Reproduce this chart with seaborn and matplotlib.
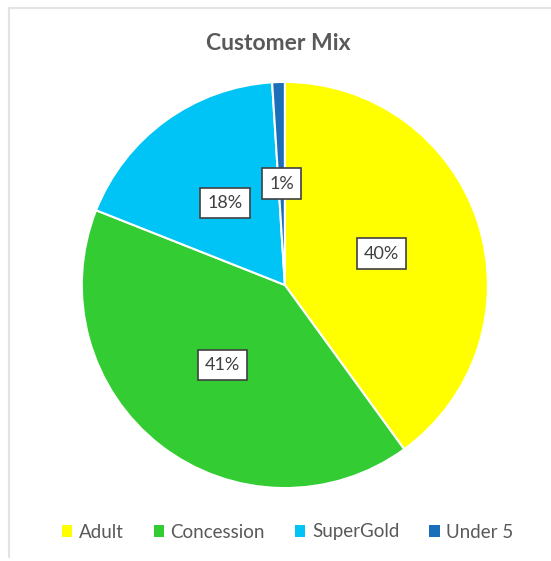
import matplotlib
matplotlib.use("Agg")
import matplotlib.pyplot as plt
from matplotlib.lines import Line2D
from matplotlib.patches import Patch
import seaborn as sns

# Customer categories and their share of the mix (%)
categories = ["Adult", "Concession", "SuperGold", "Under 5"]
shares = [40, 41, 18, 1]
slice_colors = ["#FFFF00", "#33CC33", "#00C4F5", "#1B6EB8"]
title_text = "Customer Mix"

sns.set_theme(style="white")
plt.rcParams["font.family"] = ["Lato", "DejaVu Sans"]

text_grey = "#595959"
label_grey = "#404040"

fig = plt.figure(figsize=(5.51, 5.61), dpi=100)
ax = fig.add_axes([0.517 - 0.3685, 0.492 - 0.362, 0.737, 0.724])

wedges, texts, autotexts = ax.pie(
    shares,
    colors=sns.color_palette(slice_colors),
    startangle=90,
    counterclock=False,
    autopct="%.0f%%",
    pctdistance=0.5,
    wedgeprops=dict(edgecolor="white", linewidth=1.5),
    textprops=dict(color=label_grey, fontsize=13),
)
for t in autotexts:
    t.set_bbox(dict(boxstyle="square,pad=0.4", facecolor="white",
                    edgecolor=label_grey, linewidth=1.2))
ax.set_aspect("equal")
ax.set_xlim(-1.0, 1.0)
ax.set_ylim(-1.0, 1.0)
ax.axis("off")

fig.text(0.505, 1 - 43 / 561, title_text, ha="center", va="center",
         fontsize=16.5, fontweight="bold", color=text_grey)

handles = [Patch(facecolor=c, edgecolor="none") for c in slice_colors]
fig.legend(handles, categories, loc="center", bbox_to_anchor=(0.522, 1 - 532 / 561),
           ncol=4, frameon=False, handlelength=0.55, handleheight=0.55,
           handletextpad=0.35, columnspacing=1.6, fontsize=13.5,
           labelcolor=text_grey)

# Thin frame along the top and left edges of the chart area
frame = "#E3E3E3"
fig.add_artist(Line2D([9 / 551, 1.0], [1 - 8 / 561, 1 - 8 / 561],
                      transform=fig.transFigure, color=frame, linewidth=1.5))
fig.add_artist(Line2D([9 / 551, 9 / 551], [1 - 8 / 561, 1 - 557 / 561],
                      transform=fig.transFigure, color=frame, linewidth=1.5))

fig.savefig("out.png", dpi=100, facecolor="white")
